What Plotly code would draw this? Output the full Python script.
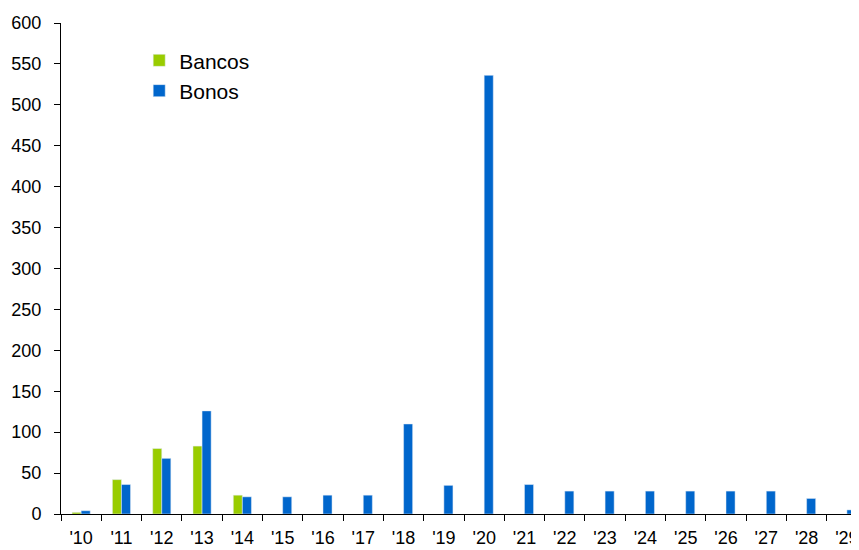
import plotly.graph_objects as go

years = ["'10", "'11", "'12", "'13", "'14", "'15", "'16", "'17", "'18", "'19",
         "'20", "'21", "'22", "'23", "'24", "'25", "'26", "'27", "'28", "'29"]
bancos = [2, 42, 80, 83, 23, None, None, None, None, None,
          None, None, None, None, None, None, None, None, None, None]
bonos = [4, 36, 68, 126, 21, 21, 23, 23, 110, 35,
         536, 36, 28, 28, 28, 28, 28, 28, 19, 5]

FONT = "Liberation Sans, Arial, sans-serif"

fig = go.Figure()
fig.add_trace(go.Bar(name="Bancos", x=years, y=bancos, marker_color="#99CC00"))
fig.add_trace(go.Bar(name="Bonos", x=years, y=bonos, marker_color="#0066CC"))

# page body has an 8px margin, so the figure is sized to fit the window
fig.update_layout(
    width=851, height=542,
    margin=dict(l=53, r=0, t=15, b=36, autoexpand=False),
    paper_bgcolor="white", plot_bgcolor="white",
    barmode="group", bargap=0.55, bargroupgap=0,
    font=dict(family=FONT, size=18, color="#000000"),
    legend=dict(x=0.098, y=0.965, xanchor="left", yanchor="top",
                font=dict(size=21, family=FONT), bgcolor="rgba(0,0,0,0)",
                tracegroupgap=0, itemwidth=30),
    showlegend=True,
)
fig.update_xaxes(
    type="category", range=[-0.5, 19.3], automargin=False,
    showline=True, linecolor="#000000", linewidth=1,
    ticks="outside", tickson="boundaries", ticklen=6, tickcolor="#000000",
    showgrid=False, zeroline=False, ticklabelstandoff=7,
    tickfont=dict(size=18, family=FONT),
)
fig.update_yaxes(
    range=[0, 600], dtick=50, tick0=0, automargin=False,
    showline=True, linecolor="#000000", linewidth=1,
    ticks="outside", ticklen=6, tickcolor="#000000",
    showgrid=False, zeroline=False, ticklabelstandoff=9,
    tickfont=dict(size=18, family=FONT),
)

fig.write_html("out.html")
